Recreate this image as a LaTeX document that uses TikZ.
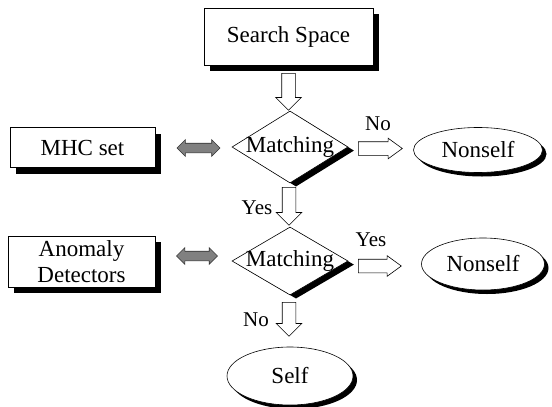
\documentclass[tikz,border=0pt]{standalone}
\usepackage{fontspec}
\setmainfont{Liberation Serif}
\usetikzlibrary{shapes.geometric,shapes.arrows,shadows}
\tikzset{
  txt/.style={font=\fontsize{23}{26}\selectfont},
  lbl/.style={font=\fontsize{21}{24}\selectfont, inner sep=0pt},
  boxnode/.style={txt, draw, fill=white, rectangle, inner sep=0pt, line width=0.6pt,
    drop shadow={shadow xshift=6pt, shadow yshift=-6pt, fill=black, opacity=1}},
  dianode/.style={draw, fill=white, diamond, inner sep=0pt, line width=0.6pt,
    drop shadow={shadow xshift=6pt, shadow yshift=-3.6pt, fill=black, opacity=1}},
  ellnode/.style={txt, draw, fill=white, ellipse, inner sep=0pt, line width=0.6pt,
    drop shadow={shadow xshift=4pt, shadow yshift=-4pt, fill=black, opacity=1}},
  downarrow/.style={draw, fill=white, single arrow, inner xsep=0pt, inner ysep=6.5pt, line width=0.6pt,
    minimum width=0pt, single arrow head extend=6pt, rotate=-90, anchor=tail},
  rightarrow/.style={draw, fill=white, single arrow, inner xsep=0pt, inner ysep=6.5pt, line width=0.6pt,
    minimum width=0pt, single arrow head extend=3.5pt, single arrow tip angle=72, anchor=tail},
  grayarrow/.style={draw=black!80, fill=black!50, double arrow, inner xsep=0pt, inner ysep=4.5pt, line width=0.6pt,
    minimum width=0pt, double arrow head extend=3.5pt},
}
\begin{document}
\begin{tikzpicture}[x=1pt,y=-1pt]
\useasboundingbox (0,0) rectangle (552,407);
% main nodes
\node[boxnode, minimum width=169pt, minimum height=57pt] (ss) at (288.5,36.5) {Search Space};
\node[boxnode, minimum width=145pt, minimum height=40pt] (mhc) at (82.5,147.5) {MHC set};
\node[boxnode, minimum width=147pt, minimum height=51pt, align=center] (ad) at (81.5,261.5) {Anomaly\\Detectors};
\node[dianode, minimum width=116pt, minimum height=72pt, label={[txt]center:Matching}] (d1) at (290,147) {};
\node[dianode, minimum width=116pt, minimum height=68pt, label={[txt]center:Matching}] (d2) at (290,261) {};
\node[ellnode, minimum width=129pt, minimum height=45pt] (ns1) at (478,150) {Nonself};
\node[ellnode, minimum width=123pt, minimum height=52pt] (ns2) at (483,264) {Nonself};
\node[ellnode, minimum width=126pt, minimum height=58pt] (self) at (290,376) {Self};
% block arrows
\node[downarrow, minimum height=37pt] (a1) at (288.5,73) {};
\node[downarrow, minimum height=38pt] (a2) at (289,187) {};
\node[downarrow, minimum height=34pt] (a3) at (289,302) {};
\node[rightarrow, minimum height=44pt] (r1) at (358,148.5) {};
\node[rightarrow, minimum height=43pt] (r2) at (358,266) {};
\node[grayarrow, minimum height=43pt] (g1) at (198.5,148) {};
\node[grayarrow, minimum height=41pt] (g2) at (197,256) {};
% labels
\node[lbl] (no1) at (378,124) {No};
\node[lbl] (yes1) at (257,208) {Yes};
\node[lbl] (yes2) at (371,240) {Yes};
\node[lbl] (no2) at (256,320) {No};
\end{tikzpicture}
\end{document}
